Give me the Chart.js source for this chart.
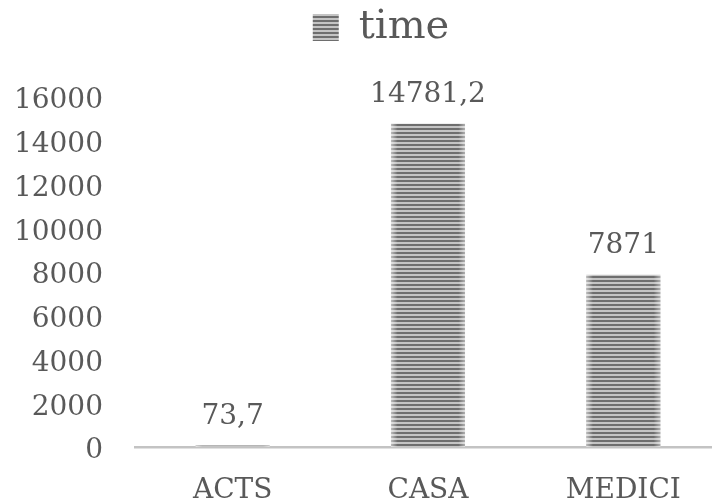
<!DOCTYPE html>
<html>
<head>
<meta charset="utf-8">
<script src="https://cdn.jsdelivr.net/npm/chart.js@4"></script>
<style>
  html, body { margin: 0; padding: 0; background: #ffffff; overflow: hidden; }
  #wrap { width: 712px; height: 503px; overflow: hidden; }
  canvas { display: block; }
</style>
</head>
<body>
<div id="wrap"><canvas id="chart" width="721" height="503"></canvas></div>
<script>
// Run times per tool
const categories = ['ACTS', 'CASA', 'MEDICI'];
const seriesName = 'time';
const timeValues = [73.7, 14781.2, 7871];
const yTickValues = [0, 2000, 4000, 6000, 8000, 10000, 12000, 14000, 16000];

const TEXT = '#595959';
Chart.defaults.font.family = "'DejaVu Serif', serif";
Chart.defaults.color = TEXT;

const canvas = document.getElementById('chart');
const ctx = canvas.getContext('2d');

// Horizontal stripe fill (dark / light rows, 4px period)
function stripePattern() {
  const tile = document.createElement('canvas');
  tile.width = 4; tile.height = 4;
  const t = tile.getContext('2d');
  t.fillStyle = '#c4c4c4';
  t.fillRect(0, 0, 4, 4);
  t.fillStyle = '#6e6e6e';
  t.fillRect(0, 0, 4, 2);
  return ctx.createPattern(tile, 'repeat');
}

// Light sheen on the left and right edges of each bar
const barShade = {
  id: 'barShade',
  afterDatasetsDraw(chart) {
    const c = chart.ctx;
    chart.getDatasetMeta(0).data.forEach(bar => {
      const { x, y, base, width } = bar.getProps(['x', 'y', 'base', 'width'], true);
      const l = x - width / 2;
      const g = c.createLinearGradient(l, 0, l + width, 0);
      g.addColorStop(0, 'rgba(255,255,255,0.55)');
      g.addColorStop(0.09, 'rgba(255,255,255,0)');
      g.addColorStop(0.91, 'rgba(255,255,255,0)');
      g.addColorStop(1, 'rgba(255,255,255,0.45)');
      c.save();
      c.fillStyle = g;
      c.fillRect(l, y, width, base - y);
      c.restore();
    });
  }
};

// Value written above each bar, decimal comma
const valueLabels = {
  id: 'valueLabels',
  afterDatasetsDraw(chart) {
    const c = chart.ctx;
    const values = chart.data.datasets[0].data;
    c.save();
    c.font = "28px 'DejaVu Serif', serif";
    c.fillStyle = TEXT;
    c.textAlign = 'center';
    c.textBaseline = 'middle';
    chart.getDatasetMeta(0).data.forEach((bar, i) => {
      const { x, y } = bar.getProps(['x', 'y'], true);
      c.fillText(String(values[i]).replace('.', ','), x, y - 29);
    });
    c.restore();
  }
};

// Legend sits a little right of the canvas centre
const legendOffset = {
  id: 'legendOffset',
  afterLayout(chart) {
    if (chart.legend) {
      chart.legend.left += 20.5;
      chart.legend.right += 20.5;
    }
  }
};

new Chart(ctx, {
  type: 'bar',
  data: {
    labels: categories,
    datasets: [{
      label: seriesName,
      data: timeValues,
      backgroundColor: stripePattern(),
      borderWidth: 0,
      barPercentage: 0.379,
      categoryPercentage: 1
    }]
  },
  options: {
    responsive: false,
    animation: false,
    devicePixelRatio: 1,
    layout: { padding: { top: 0, left: 0, right: 0, bottom: 0 } },
    plugins: {
      legend: {
        position: 'top',
        weight: 1000,
        labels: {
          boxWidth: 26,
          boxHeight: 27,
          padding: 7.5,
          color: TEXT,
          font: { size: 40 }
        }
      },
      // empty title used as a gap between legend and plot
      title: {
        display: true,
        text: '',
        position: 'top',
        weight: 500,
        font: { size: 1, lineHeight: 1 },
        padding: { top: 38.5, bottom: 0 }
      },
      tooltip: { enabled: false }
    },
    scales: {
      x: {
        grid: { display: false, drawTicks: false },
        border: { display: true, color: '#c3c3c3', width: 2.5 },
        ticks: { color: TEXT, font: { size: 28, lineHeight: 1 }, padding: 30 },
        afterFit(scale) { scale.height = 56; }
      },
      y: {
        min: yTickValues[0],
        max: yTickValues[yTickValues.length - 1],
        grid: { display: false, drawTicks: false },
        border: { display: false },
        ticks: {
          stepSize: yTickValues[1] - yTickValues[0],
          color: TEXT,
          font: { size: 28 },
          padding: 32,
          labelOffset: 4,
          callback: v => String(v)
        },
        afterFit(scale) { scale.width = 135; }
      }
    }
  },
  plugins: [barShade, valueLabels, legendOffset]
});
</script>
</body>
</html>
